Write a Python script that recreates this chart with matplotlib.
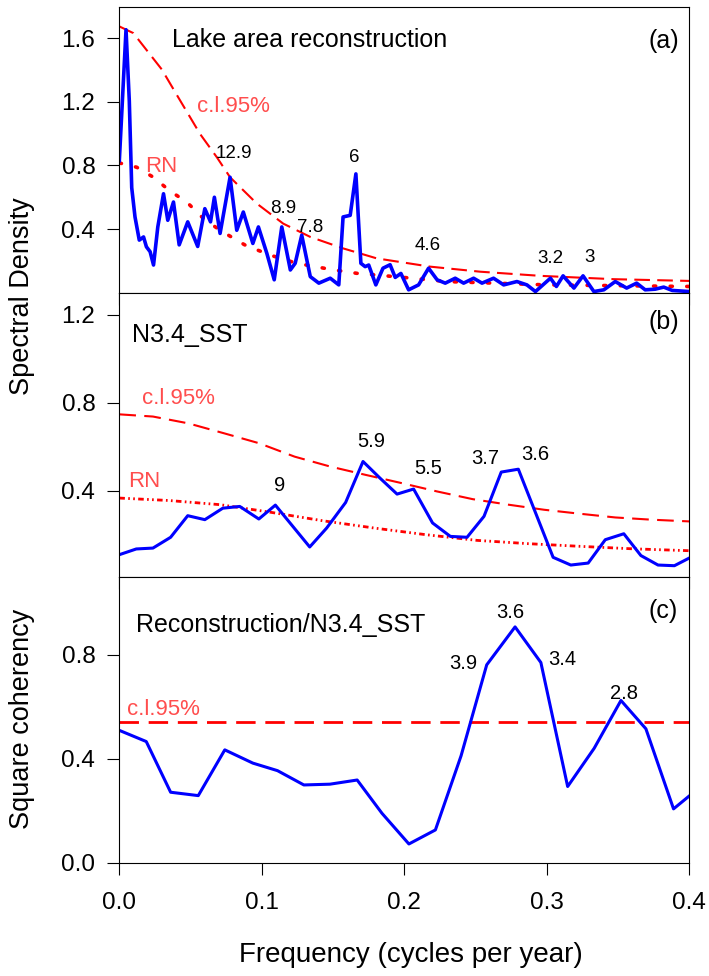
import numpy as np
import matplotlib
matplotlib.use("Agg")
import matplotlib.pyplot as plt
from matplotlib.ticker import FormatStrFormatter

plt.rcParams['font.family'] = ['Liberation Sans', 'DejaVu Sans']

# panel (a): lake area reconstruction spectrum
freq_a = [0.0, 0.0047, 0.007, 0.0087, 0.011, 0.014, 0.017, 0.019, 0.0216, 0.024,
          0.027, 0.031, 0.034, 0.038, 0.042, 0.048, 0.055, 0.060, 0.064, 0.0667,
          0.0707, 0.0777, 0.0824, 0.087, 0.0937, 0.0976, 0.1035, 0.1087, 0.114, 0.12,
          0.1234, 0.128, 0.134, 0.14, 0.148, 0.154, 0.157, 0.162, 0.166, 0.1695,
          0.1725, 0.175, 0.180, 0.185, 0.190, 0.1936, 0.1976, 0.203, 0.21, 0.217,
          0.223, 0.2287, 0.2357, 0.2416, 0.2486, 0.2545, 0.2626, 0.2697, 0.279, 0.286,
          0.292, 0.3025, 0.3067, 0.3114, 0.319, 0.3254, 0.333, 0.34, 0.348, 0.356,
          0.363, 0.369, 0.376, 0.382, 0.388, 0.4]
spec_a = [0.83, 1.655, 1.206, 0.66, 0.476, 0.33, 0.35, 0.288, 0.257, 0.173,
          0.413, 0.622, 0.455, 0.57, 0.30, 0.445, 0.29, 0.528, 0.445, 0.60,
          0.372, 0.726, 0.392, 0.507, 0.309, 0.413, 0.247, 0.08, 0.413, 0.142,
          0.184, 0.361, 0.10, 0.059, 0.09, 0.048, 0.476, 0.486, 0.747, 0.184,
          0.163, 0.173, 0.048, 0.153, 0.175, 0.095, 0.12, 0.017, 0.048, 0.153,
          0.08, 0.059, 0.09, 0.059, 0.09, 0.059, 0.09, 0.048, 0.069, 0.048,
          0.006, 0.09, 0.038, 0.105, 0.028, 0.105, 0.006, 0.017, 0.069, 0.028,
          0.059, 0.017, 0.021, 0.034, 0.013, 0.006]
cl_freq_a = [0.0, 0.0098, 0.0298, 0.0415, 0.0567, 0.0685, 0.0777, 0.0965, 0.115,
             0.134, 0.157, 0.1806, 0.218, 0.2533, 0.2953, 0.3467, 0.4]
cl_a = [1.676, 1.634, 1.405, 1.227, 0.998, 0.851, 0.726, 0.56, 0.434,
        0.35, 0.278, 0.215, 0.163, 0.131, 0.105, 0.084, 0.073]
rn_freq_a = [0.0, 0.0122, 0.0239, 0.0356, 0.0473, 0.059, 0.0707, 0.0882, 0.1057,
             0.1245, 0.148, 0.1666, 0.1996, 0.2297, 0.2999, 0.4]
rn_a = [0.816, 0.789, 0.726, 0.639, 0.57, 0.466, 0.392, 0.299, 0.236,
        0.184, 0.146, 0.121, 0.095, 0.069, 0.048, 0.038]
peaks_a = ["12.9", "6", "8.9", "7.8", "4.6", "3.2", "3"]
peak_x_a = [0.0805, 0.1647, 0.1151, 0.134, 0.2166, 0.3023, 0.3296]
peak_y_a = [0.849, 0.820, 0.503, 0.379, 0.268, 0.188, 0.190]

# panel (b): N3.4 SST spectrum
freq_b = [0.0, 0.0119, 0.0236, 0.036, 0.048, 0.060, 0.0726, 0.0845, 0.0979, 0.1095,
          0.1336, 0.1455, 0.1588, 0.171, 0.183, 0.1949, 0.2065, 0.2198, 0.2323, 0.244,
          0.2559, 0.268, 0.28, 0.3044, 0.3168, 0.329, 0.341, 0.354, 0.366, 0.378,
          0.3895, 0.4]
spec_b = [0.110, 0.136, 0.140, 0.189, 0.287, 0.269, 0.321, 0.329, 0.272, 0.335,
          0.145, 0.231, 0.347, 0.533, 0.457, 0.385, 0.408, 0.254, 0.193, 0.189,
          0.284, 0.485, 0.498, 0.098, 0.063, 0.072, 0.178, 0.205, 0.106, 0.063,
          0.060, 0.095]
cl_freq_b = [0.0, 0.0236, 0.0485, 0.0735, 0.098, 0.123, 0.148, 0.173, 0.198,
             0.223, 0.248, 0.273, 0.298, 0.323, 0.348, 0.373, 0.4]
cl_b = [0.747, 0.737, 0.706, 0.661, 0.616, 0.555, 0.510, 0.472, 0.435,
        0.397, 0.362, 0.337, 0.314, 0.296, 0.279, 0.269, 0.261]
rn_freq_b = [0.0, 0.0347, 0.0707, 0.1067, 0.1428, 0.1788, 0.2148, 0.2509, 0.2869,
             0.323, 0.359, 0.4]
rn_b = [0.367, 0.356, 0.337, 0.302, 0.264, 0.231, 0.201, 0.175, 0.160,
        0.148, 0.137, 0.128]
peaks_b = ["9", "5.9", "5.5", "3.7", "3.6"]
peak_x_b = [0.1123, 0.1766, 0.2168, 0.2564, 0.2919]
peak_y_b = [0.399, 0.598, 0.478, 0.520, 0.541]

# panel (c): square coherency
freq_c = [0.0, 0.0189, 0.036, 0.0554, 0.074, 0.0937, 0.111, 0.1295, 0.1478, 0.1669,
          0.1843, 0.2032, 0.2218, 0.2398, 0.2578, 0.2777, 0.2958, 0.3146, 0.3332, 0.352,
          0.3695, 0.3889, 0.4]
coh_c = [0.509, 0.466, 0.271, 0.258, 0.434, 0.383, 0.354, 0.299, 0.302, 0.318,
         0.190, 0.072, 0.126, 0.411, 0.761, 0.907, 0.770, 0.293, 0.440, 0.624,
         0.515, 0.207, 0.257]
cl_c = 0.543
peaks_c = ["3.6", "3.9", "3.4", "2.8"]
peak_x_c = [0.2745, 0.2412, 0.311, 0.354]
peak_y_c = [0.943, 0.746, 0.759, 0.630]

blue = "#0000ff"
red = "#ff0000"
lab_red = "#ff4d4d"

fig = plt.figure(figsize=(7.09, 9.76), dpi=100)
left, width = 0.1683, 0.804
ax_a = fig.add_axes([left, 0.7003, width, 0.2928])
ax_b = fig.add_axes([left, 0.4091, width, 0.2912])
ax_c = fig.add_axes([left, 0.1161, width, 0.2930])

for ax in (ax_a, ax_b, ax_c):
    ax.set_xlim(0, 0.4)
    ax.set_xticks([0.0, 0.1, 0.2, 0.3, 0.4])
    ax.tick_params(direction="out", length=8.3, width=0.8, labelsize=17.5)
    ax.tick_params(axis="x", pad=12.5)
    ax.tick_params(axis="y", pad=9)
    ax.yaxis.set_major_formatter(FormatStrFormatter("%.1f"))
    ax.xaxis.set_major_formatter(FormatStrFormatter("%.1f"))
    for s in ax.spines.values():
        s.set_linewidth(0.8)
ax_a.tick_params(labelbottom=False)
ax_b.tick_params(labelbottom=False)

# (a)
ax_a.plot(cl_freq_a, cl_a, color=red, lw=1.5, dashes=(7.5, 3.5))
ax_a.plot(rn_freq_a, rn_a, color=red, lw=2.6, dashes=(0.6, 4.0), dash_capstyle="round")
ax_a.plot(freq_a, spec_a, color=blue, lw=2.6, solid_joinstyle="round")
ax_a.set_ylim(0, 1.8)
ax_a.set_yticks([0.4, 0.8, 1.2, 1.6])
ax_a.text(0.0368, 1.548, "Lake area reconstruction", fontsize=18)
ax_a.text(0.3928, 1.538, "(a)", fontsize=18, ha="right")
ax_a.text(0.0543, 1.135, "c.l.95%", fontsize=16, color=lab_red)
ax_a.text(0.018, 0.761, "RN", fontsize=16, color=lab_red)
for t, x, y in zip(peaks_a, peak_x_a, peak_y_a):
    ax_a.text(x, y, t, fontsize=13.5, ha="center")

# (b)
ax_b.plot(cl_freq_b, cl_b, color=red, lw=1.5, dashes=(8, 4))
ax_b.plot(rn_freq_b, rn_b, color=red, lw=2.0, dashes=(2, 1.2, 0.6, 1.2, 0.6, 1.2))
ax_b.plot(freq_b, spec_b, color=blue, lw=2.2)
ax_b.set_ylim(0.01, 1.3)
ax_b.set_yticks([0.4, 0.8, 1.2])
ax_b.text(0.0091, 1.074, "N3.4_SST", fontsize=18)
ax_b.text(0.3928, 1.134, "(b)", fontsize=18, ha="right")
ax_b.text(0.0161, 0.792, "c.l.95%", fontsize=16, color=lab_red)
ax_b.text(0.0064, 0.417, "RN", fontsize=16, color=lab_red)
for t, x, y in zip(peaks_b, peak_x_b, peak_y_b):
    ax_b.text(x, y, t, fontsize=14.5, ha="center")

# (c)
ax_c.axhline(cl_c, color=red, lw=2.0, dashes=(7, 3.5))
ax_c.plot(freq_c, coh_c, color=blue, lw=2.2)
ax_c.set_ylim(0, 1.1)
ax_c.set_yticks([0.0, 0.4, 0.8])
ax_c.text(0.0119, 0.887, "Reconstruction/N3.4_SST", fontsize=18)
ax_c.text(0.3922, 0.943, "(c)", fontsize=18, ha="right")
ax_c.text(0.0055, 0.570, "c.l.95%", fontsize=16, color=lab_red)
for t, x, y in zip(peaks_c, peak_x_c, peak_y_c):
    ax_c.text(x, y, t, fontsize=14.5, ha="center")

fig.text(22 / 709, 1 - 296 / 976, "Spectral Density", rotation=90,
         ha="center", va="center", fontsize=19.5)
fig.text(22 / 709, 1 - 719 / 976, "Square coherency", rotation=90,
         ha="center", va="center", fontsize=19.5)
fig.text(411 / 709, 1 - 962 / 976, "Frequency (cycles per year)",
         ha="center", va="baseline", fontsize=20)

fig.savefig("out.png", dpi=100)
